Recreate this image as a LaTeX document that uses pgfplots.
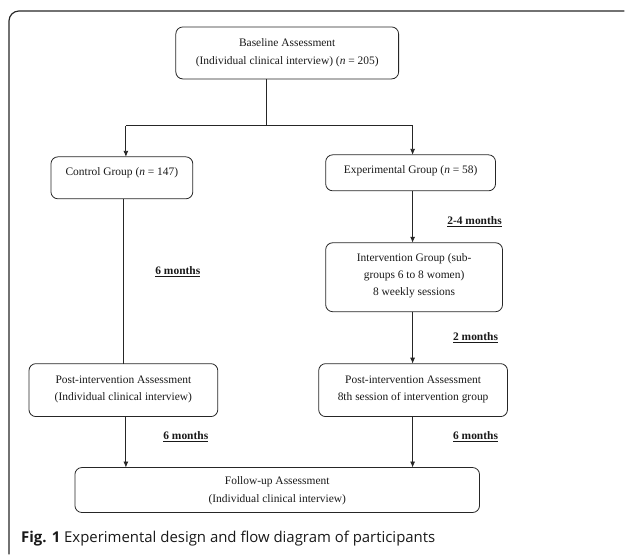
\documentclass[border=0pt]{standalone}
\usepackage{pgfplots}
\pgfplotsset{compat=1.18}
\usetikzlibrary{arrows.meta}
\usepackage{fontspec}
\setmainfont{Liberation Serif}
\newfontfamily\capfont{Open Sans}
\begin{document}
\begin{tikzpicture}
\begin{axis}[
  scale only axis, width=625bp, height=555bp,
  xmin=0, xmax=625, ymin=0, ymax=555,
  axis lines=none, clip=false,
  every axis plot/.append style={line width=0.8pt, color=black!85},
]
\addplot[draw=none, forget plot] coordinates {(0,0) (625,555)};
% connectors
\addplot[] coordinates {(267,476) (267,429)};
\addplot[] coordinates {(126,429) (413,429)};
\addplot[-{Latex[length=6pt,width=5pt]}] coordinates {(126,429) (126,398)};
\addplot[-{Latex[length=6pt,width=5pt]}] coordinates {(413,429) (413,400)};
\addplot[] coordinates {(124,356) (124,191)};
\addplot[-{Latex[length=6pt,width=5pt]}] coordinates {(413,364) (413,312)};
\addplot[-{Latex[length=6pt,width=5pt]}] coordinates {(413,243) (413,191)};
\addplot[-{Latex[length=6pt,width=5pt]}] coordinates {(126,138) (126,87)};
\addplot[-{Latex[length=6pt,width=5pt]}] coordinates {(413,138) (413,87)};
% frame
\draw[line width=1.2pt, black!85, rounded corners=10pt] (axis cs:9,0) -- (axis cs:9,544) -- (axis cs:625,544);
% boxes
\tikzset{bx/.style={line width=0.8pt, draw=black!85, rounded corners=7pt}}
\draw[bx] (axis cs:176,528) rectangle (axis cs:399,476);
\draw[bx] (axis cs:51,398) rectangle (axis cs:193,356);
\draw[bx] (axis cs:326,400) rectangle (axis cs:496,364);
\draw[bx] (axis cs:326,312) rectangle (axis cs:503,243);
\draw[bx] (axis cs:29,191) rectangle (axis cs:218,138);
\draw[bx] (axis cs:319,191) rectangle (axis cs:508,138);
\draw[bx] (axis cs:75,87) rectangle (axis cs:480,42);
% texts
\tikzset{tx/.style={font=\fontsize{11.5}{13}\selectfont, text=black!90, inner sep=0pt}}
\node[tx] at (axis cs:287.5,512) {Baseline Assessment};
\node[tx] at (axis cs:287.5,493) {(Individual clinical interview) (\textit{n} = 205)};
\node[tx] at (axis cs:122,382) {Control Group (\textit{n} = 147)};
\node[tx] at (axis cs:411,384) {Experimental Group (\textit{n} = 58)};
\node[tx] at (axis cs:414.5,296) {Intervention Group (sub-};
\node[tx] at (axis cs:414.5,279) {groups 6 to 8 women)};
\node[tx] at (axis cs:414.5,262) {8 weekly sessions};
\node[tx] at (axis cs:123.5,175) {Post-intervention Assessment};
\node[tx] at (axis cs:123.5,157) {(Individual clinical interview)};
\node[tx] at (axis cs:413.5,175) {Post-intervention Assessment};
\node[tx] at (axis cs:413.5,157) {8th session of intervention group};
\node[tx] at (axis cs:277.5,73) {Follow-up Assessment};
\node[tx] at (axis cs:277.5,55) {(Individual clinical interview)};
% month labels
\node[tx] at (axis cs:475,333) {\underline{\textbf{2-4 months}}};
\node[tx] at (axis cs:178,283) {\underline{\textbf{6 months}}};
\node[tx] at (axis cs:476,217) {\underline{\textbf{2 months}}};
\node[tx] at (axis cs:186,118) {\underline{\textbf{6 months}}};
\node[tx] at (axis cs:476,118) {\underline{\textbf{6 months}}};
% caption
\node[anchor=west, inner sep=0pt, font=\capfont\fontsize{15}{17}\selectfont, text=black!90] at (axis cs:21,16) {\textbf{Fig. 1} Experimental design and flow diagram of participants};
\end{axis}
\end{tikzpicture}
\end{document}
